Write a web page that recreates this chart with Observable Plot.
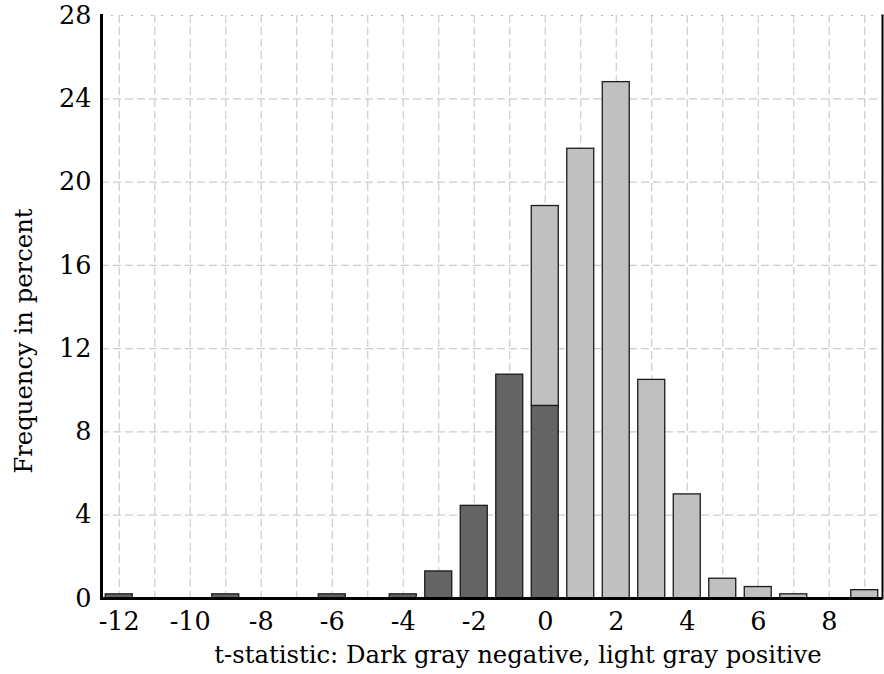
<!DOCTYPE html>
<html>
<head>
<meta charset="utf-8">
<script src="https://cdn.jsdelivr.net/npm/d3@7"></script>
<script src="https://cdn.jsdelivr.net/npm/@observablehq/plot@0.6"></script>
<style>
  html, body { margin: 0; padding: 0; background: #fff; }
  #chart svg { display: block; }
</style>
</head>
<body>
<div id="chart"></div>
<script>
const tValues   = [-12, -11, -10, -9, -8, -7, -6, -5, -4, -3, -2, -1, 0, 1, 2, 3, 4, 5, 6, 7, 8, 9];
const negative  = [0.2, 0, 0, 0.2, 0, 0, 0.2, 0, 0.2, 1.3, 4.45, 10.75, 9.25, 0, 0, 0, 0, 0, 0, 0, 0, 0];
const positive  = [0, 0, 0, 0, 0, 0, 0, 0, 0, 0, 0, 0, 9.6, 21.6, 24.8, 10.5, 5.0, 0.95, 0.55, 0.2, 0, 0.4];
const xTickLabels = [-12, -10, -8, -6, -4, -2, 0, 2, 4, 6, 8];
const yTicks = [0, 4, 8, 12, 16, 20, 24, 28];
const xTitle = "t-statistic: Dark gray negative, light gray positive";
const yTitle = "Frequency in percent";

const rows = [];
tValues.forEach((t, i) => {
  rows.push({t, sign: "negative", v: negative[i]});
  rows.push({t, sign: "positive", v: positive[i]});
});
const data = rows.filter(d => d.v > 0);

const serif = "DejaVu Serif";

const chart = Plot.plot({
  width: 884,
  height: 674,
  marginLeft: 101,
  marginRight: 2,
  marginTop: 15,
  marginBottom: 76,
  style: {fontFamily: serif, fontSize: "25px", color: "#000", background: "#fff"},
  x: {type: "band", domain: tValues, paddingInner: 0.24, paddingOuter: 0.12, round: false},
  y: {domain: [0, 28]},
  color: {domain: ["negative", "positive"], range: ["#646464", "#c0c0c0"]},
  marks: [
    Plot.gridX(tValues, {stroke: "#cccccc", strokeOpacity: 1, strokeWidth: 1.2, strokeDasharray: "8,4"}),
    Plot.gridY(yTicks.filter(d => d > 0 && d < 28), {stroke: "#cccccc", strokeOpacity: 1, strokeWidth: 1.2, strokeDasharray: "8,4"}),
    Plot.ruleY([28], {stroke: "#b0b0b0", strokeWidth: 1.2, strokeDasharray: "2,8"}),
    Plot.barY(data, {x: "t", y: "v", fill: "sign", stroke: "#1a1a1a", strokeWidth: 1.3}),
    Plot.axisX({ticks: xTickLabels, tickSize: 0, tickPadding: 13, tickFormat: d => String(d), label: null, fontSize: 25.5, fontFamily: serif}),
    Plot.axisY({ticks: yTicks, tickSize: 0, tickPadding: 10, tickFormat: d => String(d), label: null, fontSize: 25.5, fontFamily: serif}),
    Plot.ruleY([0], {stroke: "#000", strokeWidth: 3}),
    Plot.frame({anchor: "left", stroke: "#000", strokeWidth: 3}),
    Plot.frame({anchor: "right", stroke: "#000", strokeWidth: 2}),
    Plot.text([xTitle], {text: d => d, frameAnchor: "bottom", dx: 26, dy: 57, lineAnchor: "middle", textAnchor: "middle", fill: "#000", fontSize: 24.3, fontFamily: serif}),
    Plot.text([yTitle], {text: d => d, frameAnchor: "left", rotate: -90, dx: -77, dy: 34, lineAnchor: "middle", textAnchor: "middle", fill: "#000", fontSize: 24.3, fontFamily: serif})
  ]
});
document.getElementById("chart").append(chart);
</script>
</body>
</html>
